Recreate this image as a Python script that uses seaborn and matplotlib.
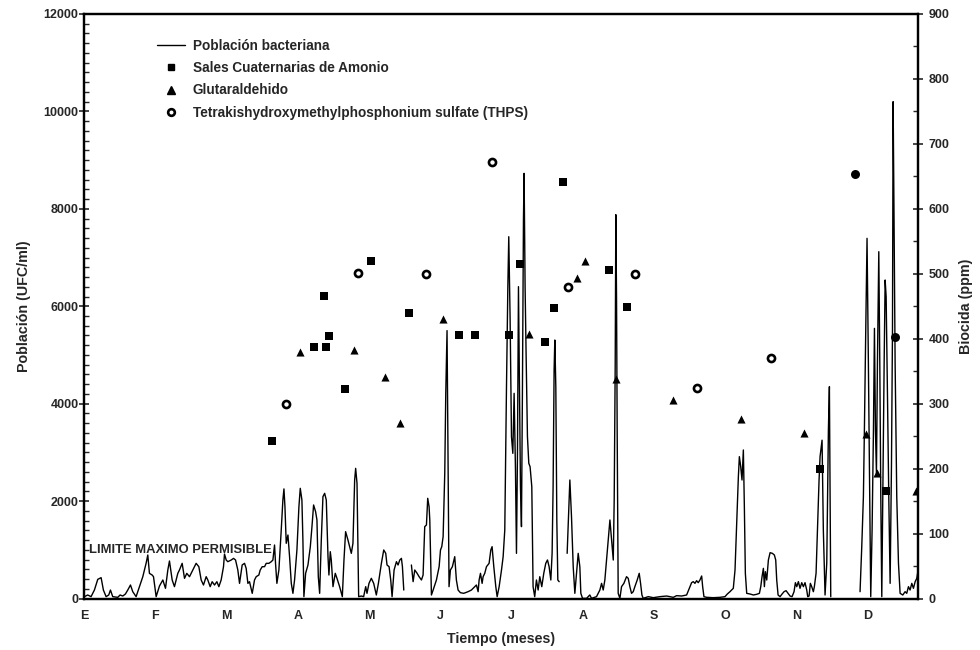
import numpy as np
import pandas as pd
import matplotlib
matplotlib.use('Agg')
import matplotlib.pyplot as plt
import seaborn as sns
from matplotlib.ticker import MultipleLocator, FixedLocator
from matplotlib.lines import Line2D

# ---------------- data ----------------
month_labels = ['E', 'F', 'M', 'A', 'M', 'J', 'J', 'A', 'S', 'O', 'N', 'D']

# Bacterial population (UFC/ml); NaN marks a break in the recorded curve
pop_month = [
    0.006, 0.052, 0.099, 0.146, 0.193, 0.240, 0.272, 0.310, 0.347, 0.371, 0.403, 0.474, 0.506, 0.544,
    0.581, 0.614, 0.652, 0.684, 0.731, 0.778, 0.825, 0.871, 0.895, 0.918, 0.956, 0.975, 1.012, 1.059,
    1.106, 1.143, 1.176, 1.199, 1.237, 1.269, 1.316, 1.339, 1.377, 1.410, 1.442, 1.480, 1.527, 1.573,
    1.611, 1.644, 1.676, 1.714, 1.737, 1.770, 1.798, 1.831, 1.864, 1.892, 1.924, 1.957, 1.971, 1.995,
    2.018, 2.065, 2.098, 2.126, 2.158, 2.182, 2.219, 2.252, 2.275, 2.299, 2.322, 2.360, 2.392, 2.416,
    2.453, 2.472, 2.500, 2.533, 2.556, 2.594, 2.627, 2.650, 2.673, 2.687, 2.706, 2.734, 2.767, 2.790,
    2.805, 2.819, 2.837, 2.861, 2.884, 2.908, 2.931, 2.954, 2.987, 3.015, 3.034, 3.057, 3.071, 3.085,
    3.109, 3.142, 3.175, 3.198, 3.221, 3.249, 3.268, 3.287, 3.306, 3.329, 3.352, 3.376, 3.399, 3.423,
    3.436, 3.455, 3.469, 3.493, 3.525, 3.549, 3.586, 3.624, 3.647, 3.670, 3.703, 3.727, 3.750, 3.773,
    3.797, 3.811, 3.830, 3.853, 3.891, 3.923, 3.952, 3.970, 3.998, 4.031, 4.064, 4.101, 4.130, 4.172,
    4.205, 4.233, 4.251, 4.280, 4.303, 4.322, 4.350, 4.383, 4.406, 4.430, 4.453, 4.467, 4.486,
    np.nan,
    4.593, 4.617, 4.640, 4.673, 4.701, 4.734, 4.757, 4.780, 4.804, 4.822, 4.841, 4.851, 4.874, 4.898,
    4.944, 4.982, 5.001, 5.019, 5.038, 5.061, 5.075, 5.093, 5.121, 5.140, 5.168, 5.201, 5.224, 5.248,
    5.280, 5.327, 5.388, 5.435, 5.482, 5.505, 5.529, 5.543, 5.562, 5.585, 5.599, 5.622, 5.646, 5.683,
    5.707, 5.725, 5.749, 5.777, 5.796, 5.824, 5.857, 5.880, 5.903, 5.927, 5.946, 5.959, 5.978, 5.997,
    6.016, 6.034, 6.053, 6.067, 6.081, 6.095, 6.109, 6.123, 6.137, 6.151, 6.165, 6.174, 6.188, 6.202,
    6.221, 6.240, 6.258, 6.282, 6.300, 6.323, 6.347, 6.371, 6.394, 6.422, 6.450, 6.478, 6.502, 6.525,
    6.549, 6.567, 6.581, 6.595, 6.605, 6.619, 6.633, 6.647, 6.666,
    np.nan,
    6.778, 6.816, 6.839, 6.863, 6.886, 6.910, 6.933, 6.956, 6.970, 6.994, 7.050, 7.096, 7.120, 7.190,
    7.237, 7.261, 7.284, 7.307, 7.331, 7.354, 7.378, 7.401, 7.425, 7.438, 7.452, 7.461, 7.471, 7.480,
    7.494, 7.518, 7.541, 7.574, 7.611, 7.635, 7.658, 7.681, 7.705, 7.728, 7.761, 7.789, 7.808, 7.827,
    7.845, 7.916, 7.986, 8.080, 8.174, 8.267, 8.313, 8.384, 8.454, 8.491, 8.524, 8.547, 8.571, 8.594,
    8.617, 8.641, 8.665, 8.679, 8.697, 8.735, 8.828, 8.922, 8.992, 9.025, 9.062, 9.109, 9.133, 9.156,
    9.180, 9.194, 9.213, 9.231, 9.250, 9.264, 9.278, 9.297, 9.344, 9.391, 9.437, 9.475, 9.494, 9.512,
    9.531, 9.545, 9.559, 9.578, 9.601, 9.625, 9.657, 9.685, 9.704, 9.718, 9.737, 9.765, 9.793, 9.821,
    9.849, 9.877, 9.905, 9.933, 9.961, 9.980, 9.999, 10.022, 10.045, 10.069, 10.092, 10.115, 10.139,
    10.153, 10.172, 10.190, 10.209, 10.232, 10.246, 10.270, 10.293, 10.312, 10.326, 10.354, 10.372,
    10.396, 10.420, 10.443, 10.457, 10.476,
    np.nan,
    10.887, 10.911, 10.934, 10.948, 10.967, 10.985, 11.004, 11.018, 11.037, 11.056, 11.075, 11.089,
    11.103, 11.117, 11.131, 11.150, 11.164, 11.178, 11.192, 11.206, 11.225, 11.239, 11.253, 11.272,
    11.290, 11.309, 11.328, 11.342, 11.351, 11.365, 11.379, 11.402, 11.426, 11.449, 11.487, 11.519,
    11.542, 11.566, 11.589, 11.613, 11.636, 11.660, 11.683, 11.702,
]
pop_ufc = [
    38, 72, 38, 174, 393, 428, 174, 38, 72, 174, 38, 24, 72, 51,
    92, 174, 277, 140, 38, 243, 448, 722, 893, 516, 482, 448, 38, 257,
    380, 209, 585, 770, 380, 243, 516, 585, 722, 414, 516, 448, 585, 722,
    653, 380, 277, 448, 380, 243, 345, 277, 345, 243, 380, 653, 913, 790,
    756, 790, 824, 790, 585, 311, 688, 722, 619, 311, 345, 106, 380, 448,
    482, 585, 653, 653, 722, 722, 756, 790, 1098, 722, 311, 585, 1406, 2022,
    2250, 1885, 1133, 1304, 859, 311, 106, 380, 996, 1885, 2262, 2022, 1201, 38,
    517, 688, 1064, 1475, 1920, 1783, 1612, 448, 106, 1201, 2091, 2159, 2022, 859,
    482, 961, 790, 243, 517, 414, 243, 38, 790, 1372, 1201, 1064, 927, 1133,
    2433, 2672, 2364, 38, 51, 38, 243, 106, 311, 414, 311, 72, 311, 722,
    996, 927, 688, 653, 380, 38, 585, 756, 688, 790, 824, 653, 174,
    np.nan,
    688, 346, 585, 517, 448, 380, 482, 1475, 1509, 2057, 1885, 1612, 72, 174,
    380, 653, 996, 1064, 1270, 2570, 4200, 5500, 243, 585, 653, 859, 380, 174,
    120, 106, 140, 174, 243, 277, 140, 380, 517, 311, 448, 517, 653, 722,
    996, 1064, 653, 243, 38, 243, 585, 859, 1406, 4349, 6402, 7428, 5718, 3323,
    2980, 4212, 2638, 927, 2980, 6402, 4349, 2296, 1475, 4349, 7770, 8728, 6402, 5033,
    3323, 2775, 2706, 2296, 243, 38, 380, 174, 448, 243, 517, 722, 791, 653,
    380, 927, 2296, 4691, 5307, 4349, 1612, 380, 345,
    np.nan,
    927, 2433, 1680, 653, 106, 517, 927, 653, 106, 3, 3, 72, 3, 38,
    174, 311, 174, 380, 790, 1201, 1612, 1201, 790, 2022, 4760, 7880, 6127, 3390,
    106, 3, 243, 311, 448, 414, 243, 106, 140, 243, 380, 517, 311, 72,
    3, 38, 17, 38, 51, 24, 58, 51, 72, 209, 325, 346, 311, 366,
    325, 380, 462, 243, 38, 24, 17, 24, 38, 92, 140, 209, 585, 1543,
    2501, 2912, 2706, 2433, 3049, 1885, 517, 106, 92, 72, 86, 106, 243, 448,
    619, 243, 551, 380, 790, 941, 927, 893, 790, 380, 72, 38, 92, 140,
    161, 106, 51, 38, 140, 325, 243, 346, 209, 325, 243, 325, 174,
    38, 51, 311, 243, 140, 243, 517, 1543, 2433, 2912, 3250, 1406,
    72, 729, 3460, 4348, 37,
    np.nan,
    140, 1064, 2091, 3460, 5512, 7394, 4828, 2775, 38, 1406, 3460, 5546,
    3460, 2570, 4828, 7120, 4828, 2091, 38, 2091, 4828, 6539, 6197, 4144,
    2091, 311, 2775, 5512, 10200, 7565, 4828, 2091, 722, 106, 72, 140,
    106, 243, 174, 311, 209, 345, 414, 585,
]

# Biocide doses (ppm)
sales_month = [2.642, 3.226, 3.400, 3.366, 3.432, 3.661, 4.032, 4.560, 5.254, 5.483,
               5.956, 6.115, 6.462, 6.593, 6.719, 7.361, 7.614, 10.324, 11.246]
sales_ppm = [243, 388, 388, 466, 404, 323, 520, 440, 406, 405,
             405, 515, 395, 447, 641, 506, 449, 200, 166]

glut_month = [3.025, 3.794, 4.229, 4.430, 5.038, 6.246, 6.911, 7.032, 7.459, 8.260,
              9.223, 10.094, 10.965, 11.125, 11.677]
glut_ppm = [379, 383, 341, 270, 430, 408, 493, 519, 338, 305,
            276, 255, 254, 194, 166]

thps_month = [2.833, 3.850, 4.799, 5.726, 6.785, 7.724, 8.603, 9.642, 10.813, 11.378]
thps_ppm = [300, 501, 499, 672, 480, 500, 324, 371, 654, 403]

legend_labels = ['Población bacteriana', 'Sales Cuaternarias de Amonio', 'Glutaraldehido',
                 'Tetrakishydroxymethylphosphonium sulfate (THPS)']

# ---------------- style ----------------
sns.set_style('white')
plt.rcParams['font.family'] = ['Liberation Sans', 'DejaVu Sans']
plt.rcParams['font.weight'] = 'bold'
plt.rcParams['axes.labelweight'] = 'bold'
FS = 9
LFS = 10.3

fig = plt.figure(figsize=(9.8, 6.5), dpi=100)
ax = fig.add_axes([84 / 980, 51.5 / 650, 834 / 980, 584.5 / 650])
ax2 = ax.twinx()

# population line, split at the gaps
df = pd.DataFrame({'mes': pop_month, 'ufc': pop_ufc})
df['tramo'] = df['ufc'].isna().cumsum()
df = df.dropna()
sns.lineplot(data=df, x='mes', y='ufc', units='tramo', estimator=None, sort=False,
             color='black', lw=1.0, ax=ax, legend=False)

# biocides
sns.scatterplot(x=sales_month, y=sales_ppm, marker='s', s=28, color='black',
                edgecolor='black', linewidth=0, ax=ax2, zorder=5)
sns.scatterplot(x=glut_month, y=glut_ppm, marker='^', s=34, color='black',
                edgecolor='black', linewidth=0, ax=ax2, zorder=5)
open_idx = list(range(len(thps_month) - 2))
solid_idx = [len(thps_month) - 2, len(thps_month) - 1]
sns.scatterplot(x=[thps_month[i] for i in open_idx], y=[thps_ppm[i] for i in open_idx],
                marker='o', s=26, facecolor='white', edgecolor='black', linewidth=1.9,
                ax=ax2, zorder=5)
sns.scatterplot(x=[thps_month[i] for i in solid_idx], y=[thps_ppm[i] for i in solid_idx],
                marker='o', s=42, color='black', edgecolor='black', linewidth=0,
                ax=ax2, zorder=5)

# axes limits / ticks
ax.set_xlim(0, 11.70)
ax.set_ylim(0, 12000)
ax2.set_ylim(0, 900)
ax.xaxis.set_major_locator(FixedLocator(range(12)))
ax.set_xticklabels(month_labels)
ax.yaxis.set_major_locator(MultipleLocator(2000))
ax.yaxis.set_minor_locator(MultipleLocator(200))
ax2.yaxis.set_major_locator(MultipleLocator(100))
ax2.yaxis.set_minor_locator(MultipleLocator(50))

ax.tick_params(axis='x', which='major', direction='inout', length=7, width=1.2,
               labelsize=FS, pad=5, top=False)
ax.tick_params(axis='y', which='major', direction='inout', length=7, width=1.2,
               labelsize=FS, pad=0.5, right=False)
ax.tick_params(axis='y', which='minor', direction='in', length=3.5, width=1.0, left=True, right=False)
ax2.tick_params(axis='y', which='major', direction='inout', length=7, width=1.2,
                labelsize=FS, pad=4, left=False)
ax2.tick_params(axis='y', which='minor', direction='in', length=3.5, width=1.0, right=True, left=False)
for a in (ax, ax2):
    for lab in a.get_xticklabels() + a.get_yticklabels():
        lab.set_fontweight('bold')
    for sp in a.spines.values():
        sp.set_color('black')
        sp.set_linewidth(1.6)

ax.set_xlabel('Tiempo (meses)', fontsize=LFS, fontweight='bold', labelpad=7)
ax.set_ylabel('Población (UFC/ml)', fontsize=LFS, fontweight='bold', labelpad=9)
ax2.set_ylabel('Biocida (ppm)', fontsize=LFS, fontweight='bold', labelpad=7, rotation=90)

ax.text(0.075, 1000, 'LIMITE MAXIMO PERMISIBLE', fontsize=9.4, fontweight='bold',
        va='center', ha='left', zorder=6)

handles = [
    Line2D([], [], color='black', lw=1.0),
    Line2D([], [], color='black', marker='s', ls='', ms=5),
    Line2D([], [], color='black', marker='^', ls='', ms=5.5),
    Line2D([], [], color='black', marker='o', ls='', ms=4.8, mfc='white', mew=1.9),
]
leg = ax2.legend(handles, legend_labels, loc='upper left', bbox_to_anchor=(0.088, 0.958),
                 frameon=False, borderaxespad=0, borderpad=0, handlelength=2.0,
                 handletextpad=0.6, labelspacing=0.62,
                 prop={'size': 9.8, 'weight': 'bold'})

fig.savefig('out.png', dpi=100)
